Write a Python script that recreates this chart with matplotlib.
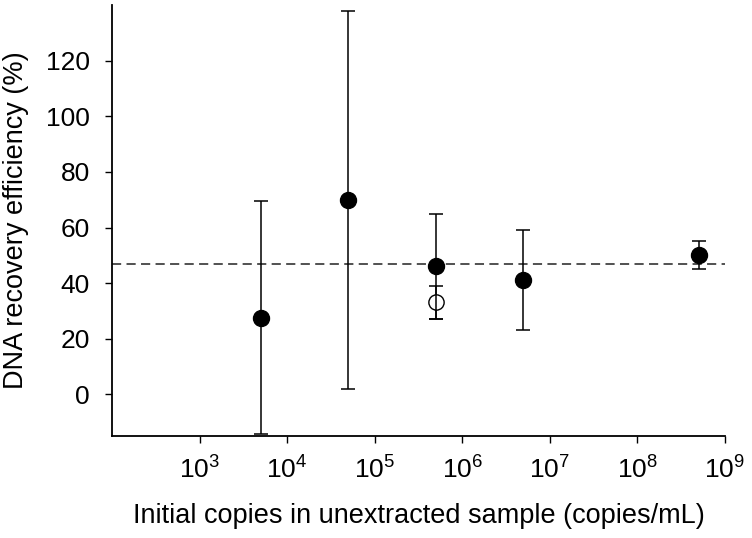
import matplotlib
matplotlib.use("Agg")
import matplotlib.pyplot as plt
from matplotlib.ticker import LogFormatterMathtext, NullLocator

plt.rcParams['font.family'] = ['Liberation Sans', 'DejaVu Sans']
plt.rcParams['mathtext.fontset'] = 'custom'
plt.rcParams['mathtext.rm'] = 'Liberation Sans'

# filled points
conc = [5e3, 5e4, 5e5, 5e6, 5e8]
recovery = [27.5, 70, 46, 41, 50]
err = [42, 68, 19, 18, 5]

# open point
conc_open = [5e5]
recovery_open = [33]
err_open = [6]

mean_recovery = 47

fig = plt.figure(figsize=(7.52, 5.38), dpi=100)
ax = fig.add_axes([0.149, 0.19, 0.815, 0.80])

ax.axhline(mean_recovery, color='#222222', linestyle=(0, (6, 3.5)), linewidth=1.1, zorder=1)

ax.errorbar(conc_open, recovery_open, yerr=err_open, fmt='o', color='black',
            mfc='white', mec='black', markersize=11, capsize=4.7, elinewidth=1.1,
            capthick=1.1, zorder=3)
ax.errorbar(conc, recovery, yerr=err, fmt='o', color='black', markersize=11.5,
            capsize=4.7, elinewidth=1.1, capthick=1.1, zorder=4)

ax.set_xscale('log')
ax.set_xlim(1e2, 1e9)
ax.set_ylim(-15, 140)
ax.set_xticks([1e3, 1e4, 1e5, 1e6, 1e7, 1e8, 1e9])
ax.xaxis.set_major_formatter(LogFormatterMathtext())
ax.xaxis.set_minor_locator(NullLocator())
ax.set_yticks([0, 20, 40, 60, 80, 100, 120])

ax.spines['top'].set_visible(False)
ax.spines['right'].set_visible(False)
for s in ('left', 'bottom'):
    ax.spines[s].set_linewidth(1.3)

ax.tick_params(axis='both', direction='out', length=5, width=1, labelsize=19)
ax.tick_params(axis='x', pad=10)
ax.tick_params(axis='y', pad=11)

ax.set_xlabel('Initial copies in unextracted sample (copies/mL)', fontsize=19.5, labelpad=14)
ax.set_ylabel('DNA recovery efficiency (%)', fontsize=19.5, labelpad=12)

fig.savefig('out.png', dpi=100, facecolor='white')
